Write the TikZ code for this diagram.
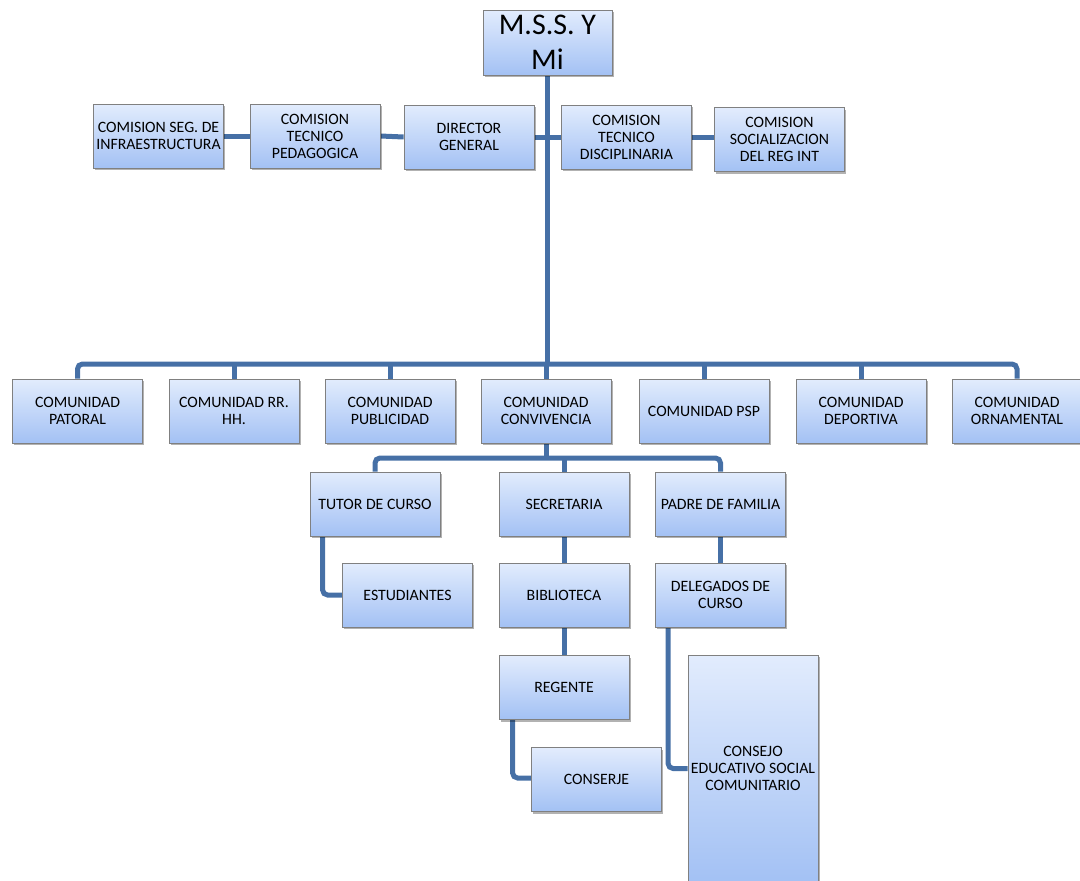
\documentclass[tikz,border=0pt]{standalone}
\usepackage{fontspec}
\setmainfont{Carlito}
\usetikzlibrary{shadows}
\pgfdeclarelayer{bg}
\pgfsetlayers{bg,main}
\definecolor{conncol}{RGB}{70,112,166}
\definecolor{boxtop}{RGB}{226,236,253}
\definecolor{boxbot}{RGB}{163,193,244}
\definecolor{boxline}{RGB}{128,128,128}
\tikzset{
  orgbox/.style={draw=boxline, line width=0.8pt, top color=boxtop, bottom color=boxbot,
    minimum width=130pt, minimum height=64pt, align=center, inner xsep=1pt, inner ysep=2pt,
    font=\fontsize{15.8}{17}\selectfont,
    drop shadow={shadow xshift=1.5pt, shadow yshift=-2pt, opacity=0.3, fill=black}},
  conn/.style={draw=conncol, line width=5pt, rounded corners=5pt}
}
\begin{document}
\begin{tikzpicture}[x=1pt,y=-1pt]
\useasboundingbox (0,0) rectangle (1080,881);
% top
\node[orgbox, minimum width=129pt, minimum height=65pt, font=\fontsize{30}{35}\selectfont] (mss) at (547.5,42.5) {M.S.S. Y\\Mi};
\node[orgbox] (seg) at (158.5,136) {COMISION SEG. DE\\INFRAESTRUCTURA};
\node[orgbox] (ped) at (315,136) {COMISION\\TECNICO\\PEDAGOGICA};
\node[orgbox] (dir) at (469,137) {DIRECTOR\\GENERAL};
\node[orgbox] (disc) at (626.5,137) {COMISION\\TECNICO\\DISCIPLINARIA};
\node[orgbox] (soc) at (779.5,139.5) {COMISION\\SOCIALIZACION\\DEL REG INT};
% comunidades
\node[orgbox] (pat) at (77.5,411) {COMUNIDAD\\PATORAL};
\node[orgbox] (rrhh) at (234,411) {COMUNIDAD RR.\\HH.};
\node[orgbox] (pub) at (390,411) {COMUNIDAD\\PUBLICIDAD};
\node[orgbox] (conv) at (546,411) {COMUNIDAD\\CONVIVENCIA};
\node[orgbox] (psp) at (704,411) {COMUNIDAD PSP};
\node[orgbox] (dep) at (861,411) {COMUNIDAD\\DEPORTIVA};
\node[orgbox] (orn) at (1017,411) {COMUNIDAD\\ORNAMENTAL};
% level 3
\node[orgbox] (tut) at (375,504) {TUTOR DE CURSO};
\node[orgbox] (sec) at (564,504) {SECRETARIA};
\node[orgbox] (pad) at (720.5,504) {PADRE DE FAMILIA};
\node[orgbox] (est) at (407.5,595) {ESTUDIANTES};
\node[orgbox] (bib) at (564,595) {BIBLIOTECA};
\node[orgbox] (del) at (720.5,595) {DELEGADOS DE\\CURSO};
\node[orgbox] (reg) at (564,687.5) {REGENTE};
\node[orgbox] (cons) at (596.5,779.5) {CONSERJE};
\node[orgbox, minimum height=227pt] (cesc) at (753,768.5) {CONSEJO\\EDUCATIVO SOCIAL\\COMUNITARIO};
\coordinate (bar) at (547.5,364);
\coordinate (bar2) at (546,458);
\begin{pgfonlayer}{bg}
\draw[conn] (mss.south) -- (bar);
\draw[conn] (seg.east) -- (ped.west);
\draw[conn] (ped.east) -- (dir.west);
\draw[conn] (dir.east) -- (disc.west);
\draw[conn] (disc.east) -- (disc.east -| soc.west);
\draw[conn] (pat.north) -- (pat.north |- bar) -- (orn.north |- bar) -- (orn.north);
\foreach \n in {rrhh,pub,conv,psp,dep}{\draw[conn] (\n.north) -- (\n.north |- bar);}
\draw[conn] (conv.south) -- (bar2);
\draw[conn] (tut.north) -- (tut.north |- bar2) -- (pad.north |- bar2) -- (pad.north);
\draw[conn] (sec.north) -- (sec.north |- bar2);
\draw[conn] ([xshift=13pt]tut.south west) |- (est.west);
\draw[conn] (sec.south) -- (bib.north);
\draw[conn] (bib.south) -- (reg.north);
\draw[conn] ([xshift=14pt]reg.south west) |- ([yshift=1.5pt]cons.west);
\draw[conn] (pad.south) -- (del.north);
\draw[conn] ([xshift=13pt]del.south west) |- (cesc.west);
\end{pgfonlayer}
\end{tikzpicture}
\end{document}
